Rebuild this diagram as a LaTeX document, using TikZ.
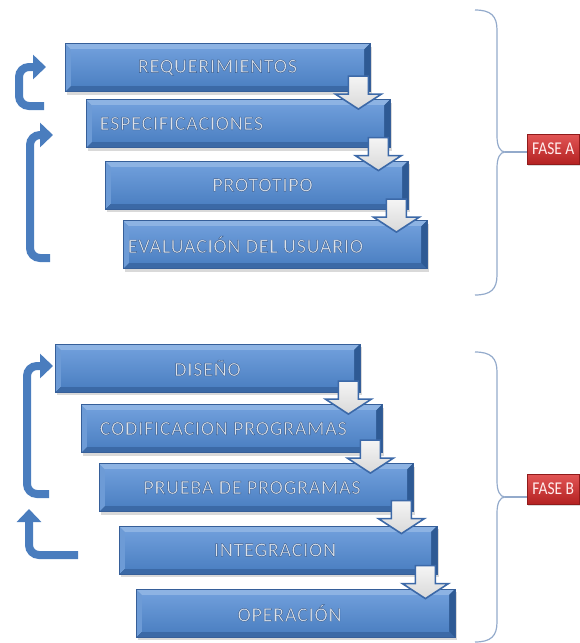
\documentclass[tikz,border=0pt]{standalone}
\usepackage{fontspec}
\setmainfont{Carlito}
\newfontfamily\barfont[LetterSpace=4]{Carlito}
\newfontfamily\fasefont[FakeStretch=0.86]{Carlito}
\usetikzlibrary{arrows.meta,calc,shadows}

\definecolor{barline}{HTML}{365F99}
\definecolor{bevtop}{HTML}{8DB3E3}
\definecolor{bevleft}{HTML}{6D9BD6}
\definecolor{bevbot}{HTML}{3B69A6}
\definecolor{bevright}{HTML}{2E5A94}
\definecolor{facetop}{HTML}{6E9DDA}
\definecolor{facebot}{HTML}{4D81C3}
\definecolor{txtface}{HTML}{DCE2EA}
\definecolor{loopblue}{HTML}{4A7DBE}
\definecolor{dropline}{HTML}{3C69A8}
\definecolor{braceblue}{HTML}{93AACB}
\definecolor{fasetop}{HTML}{E25555}
\definecolor{fasebot}{HTML}{B42222}

% light letters with a thin dark blue outline
\newcommand{\bartxt}[1]{\leavevmode\color{txtface}%
  \special{pdf:literal direct 0.22 0.36 0.56 RG 0.4 w 2 Tr}#1%
  \special{pdf:literal direct 0 Tr}}

\tikzset{
  bar/.style={draw=barline, line width=0.8pt, fill=bevbot, inner sep=0pt,
    minimum height=48, minimum width=#1,
    drop shadow={shadow xshift=2pt, shadow yshift=-3pt, opacity=0.3},
    path picture={
      \fill[bevtop] (path picture bounding box.north west)
        -- (path picture bounding box.north east) -- ++(-6pt,-6pt)
        -| ([shift={(6pt,6pt)}]path picture bounding box.south west)
        -- (path picture bounding box.south west) -- cycle;
      \fill[bevleft] (path picture bounding box.south west)
        -- (path picture bounding box.north west) -- ++(6pt,-6pt)
        -- ([shift={(6pt,6pt)}]path picture bounding box.south west) -- cycle;
      \fill[bevright] (path picture bounding box.south east)
        -- (path picture bounding box.north east) -- ++(-6pt,-6pt)
        -- ([shift={(-6pt,6pt)}]path picture bounding box.south east) -- cycle;
      \shade[top color=facetop, bottom color=facebot]
        ([shift={(6pt,6pt)}]path picture bounding box.south west) rectangle
        ([shift={(-6pt,-6pt)}]path picture bounding box.north east);
    }},
  bartext/.style={inner sep=0pt, font=\barfont\fontsize{20}{20}\selectfont},
  loopar/.style={draw=loopblue, line width=8pt, rounded corners=10pt,
    -{Triangle[width=24pt,length=13pt]}},
  brace/.style={draw=braceblue, line width=1.2pt},
  fase/.style={anchor=west, draw=fasebot!80!black, line width=0.5pt,
    top color=fasetop, bottom color=fasebot, minimum height=30, minimum width=52,
    inner xsep=3pt, text=white!92!red, font=\fasefont\fontsize{18}{18}\selectfont,
    drop shadow={shadow xshift=1pt, shadow yshift=-2pt, opacity=0.3}},
  downarrow/.pic={
    \draw[draw=dropline, line width=1.6pt, line join=miter,
      top color=gray!8, bottom color=gray!30]
      (-10,-33) -- (10,-33) -- (10,-15) -- (23,-15) -- (0,0)
      -- (-23,-15) -- (-10,-15) -- cycle;
  }
}

\begin{document}
\begin{tikzpicture}[x=1pt,y=-1pt]
\useasboundingbox (0,0) rectangle (579,643);

% fase A
\node[bar=305] (req) at (217.5,67.5) {};
\node[bar=304] (esp) at (238,123.5) {};
\node[bar=303] (pro) at (256.5,185) {};
\node[bar=304] (eva) at (275,244.5) {};
\node[bartext] (reqt) at (req) {\bartxt{REQUERIMIENTOS}};
\node[bartext, anchor=west] (espt) at ([xshift=14pt]esp.west) {\bartxt{ESPECIFICACIONES}};
\node[bartext] (prot) at ([xshift=6pt]pro.center) {\bartxt{PROTOTIPO}};
\node[bartext, anchor=west] (evat) at ([xshift=5pt]eva.west) {\bartxt{EVALUACIÓN DEL USUARIO}};

\pic at ($(req.east |- esp.north)+(-12,10)$) {downarrow};
\pic at ($(esp.east |- pro.north)+(-12,10)$) {downarrow};
\pic at ($(pro.east |- eva.north)+(-12,12)$) {downarrow};

\coordinate (a1s) at (44,106);
\coordinate (a1e) at (46,67);
\draw[loopar] (a1s) -| (19,67) -- (a1e);
\coordinate (a2s) at (50,258);
\coordinate (a2e) at (53,135);
\draw[loopar] (a2s) -| (30,135) -- (a2e);

\node[fase] (faseA) at (527,149) {FASE A};
\coordinate (cA) at (505,152);
\draw[brace] (475,10) .. controls (491,10) and (497,16) .. (497,30)
  -- (497,136) .. controls (497,146) and (500,152) .. (cA)
  .. controls (500,152) and (497,158) .. (497,168)
  -- (497,275) .. controls (497,289) and (491,295) .. (475,295);
\draw[brace] (cA) -- (faseA.west |- cA);

% fase B
\node[bar=305] (dis) at (207.5,368) {};
\node[bar=301] (cod) at (231.5,428.5) {};
\node[bar=314] (pru) at (256,487.5) {};
\node[bar=318] (int) at (278,550) {};
\node[bar=319] (ope) at (295.5,613) {};
\node[bartext] (dist) at (dis) {\bartxt{DISEÑO}};
\node[bartext, anchor=west] (codt) at ([xshift=19pt]cod.west) {\bartxt{CODIFICACION PROGRAMAS}};
\node[bartext] (prut) at ([xshift=-4pt]pru.center) {\bartxt{PRUEBA DE PROGRAMAS}};
\node[bartext] (intt) at ([xshift=-3pt]int.center) {\bartxt{INTEGRACION}};
\node[bartext] (opet) at ([xshift=-6pt]ope.center) {\bartxt{OPERACIÓN}};

\pic at ($(dis.east |- cod.north)+(-12,10)$) {downarrow};
\pic at ($(cod.east |- pru.north)+(-12,10)$) {downarrow};
\pic at ($(pru.east |- int.north)+(-12,8)$) {downarrow};
\pic at ($(int.east |- ope.north)+(-12,10)$) {downarrow};

\coordinate (b1s) at (49,494);
\coordinate (b1e) at (53,366);
\draw[loopar] (b1s) -| (27,366) -- (b1e);
\coordinate (b2s) at (78,555);
\coordinate (b2e) at (29,509);
\draw[loopar] (b2s) -| (b2e);

\node[fase] (faseB) at (527,489) {FASE B};
\coordinate (cB) at (505,497);
\draw[brace] (475,352) .. controls (491,352) and (497,358) .. (497,372)
  -- (497,481) .. controls (497,491) and (500,497) .. (cB)
  .. controls (500,497) and (497,503) .. (497,513)
  -- (497,622) .. controls (497,636) and (491,642) .. (475,642);
\draw[brace] (cB) -- (faseB.west |- cB);
\end{tikzpicture}
\end{document}
